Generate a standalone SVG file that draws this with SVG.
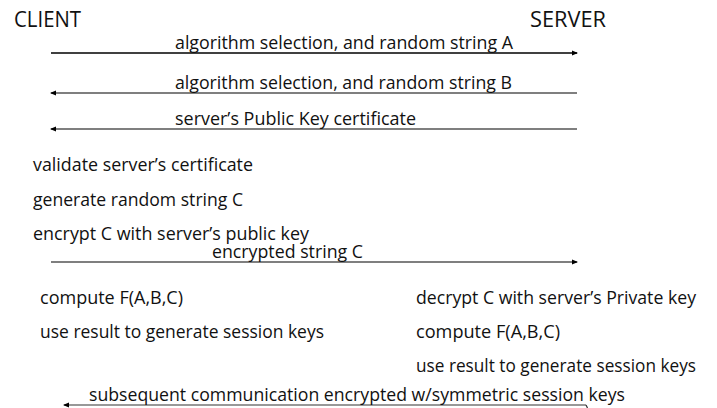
<svg xmlns="http://www.w3.org/2000/svg" width="717" height="408" viewBox="0 0 717 408">
  <style>
    text { font-family: "Open Sans", "Noto Sans", "Liberation Sans", sans-serif; fill: #111; }
    .hdr { font-size: 21px; }
    .lbl { font-size: 17.5px; }
    .msg { fill: none; stroke: #7f7f7f; stroke-width: 2; }
    .msg.dark { stroke: #000; stroke-width: 1.3; }
    .msg.thin { stroke: #333; stroke-width: 1.2; }
  </style>
  <defs>
    <marker id="head" viewBox="0 0 6 6" refX="5" refY="3" markerWidth="6" markerHeight="6" markerUnits="userSpaceOnUse" orient="auto">
      <path d="M0,0.6 L6,3 L0,5.4 Z" fill="#000"/>
    </marker>
  </defs>
  <rect width="717" height="408" fill="#fff"/>

  <!-- participants -->
  <g id="client">
    <text class="hdr" x="14" y="27" textLength="67" lengthAdjust="spacingAndGlyphs">CLIENT</text>
  </g>
  <g id="server">
    <text class="hdr" x="530" y="27" textLength="76" lengthAdjust="spacingAndGlyphs">SERVER</text>
  </g>

  <!-- message lines -->
  <g id="connectors">
    <line class="msg dark" x1="51" y1="53" x2="577" y2="53" marker-end="url(#head)"/>
    <line class="msg" x1="577" y1="93" x2="51" y2="93" marker-end="url(#head)"/>
    <line class="msg" x1="577" y1="129" x2="51" y2="129" marker-end="url(#head)"/>
    <line class="msg" x1="51" y1="262" x2="577" y2="262" marker-end="url(#head)"/>
    <line class="msg thin" x1="586" y1="405" x2="64" y2="405" marker-end="url(#head)"/>
    <path d="M586,405 l1.5,3" fill="none" stroke="#333" stroke-width="1.2"/>
  </g>

  <!-- message labels -->
  <g id="msg-a">
    <text class="lbl" x="175" y="49" textLength="338" lengthAdjust="spacingAndGlyphs">algorithm selection, and random string A</text>
  </g>
  <g id="msg-b">
    <text class="lbl" x="175" y="89" textLength="337" lengthAdjust="spacingAndGlyphs">algorithm selection, and random string B</text>
  </g>
  <g id="msg-cert">
    <text class="lbl" x="175" y="125" textLength="241" lengthAdjust="spacingAndGlyphs">server’s Public Key certificate</text>
  </g>
  <g id="msg-c">
    <text class="lbl" x="212" y="258" textLength="151" lengthAdjust="spacingAndGlyphs">encrypted string C</text>
  </g>
  <g id="msg-session">
    <text class="lbl" x="89" y="401" textLength="536" lengthAdjust="spacingAndGlyphs">subsequent communication encrypted w/symmetric session keys</text>
  </g>

  <!-- client steps -->
  <g id="client-steps">
    <text class="lbl" x="33" y="171" textLength="220" lengthAdjust="spacingAndGlyphs">validate server’s certificate</text>
    <text class="lbl" x="33" y="206" textLength="210" lengthAdjust="spacingAndGlyphs">generate random string C</text>
    <text class="lbl" x="33" y="240" textLength="276" lengthAdjust="spacingAndGlyphs">encrypt C with server’s public key</text>
    <text class="lbl" x="40" y="304" textLength="143" lengthAdjust="spacingAndGlyphs">compute F(A,B,C)</text>
    <text class="lbl" x="40" y="338" textLength="284" lengthAdjust="spacingAndGlyphs">use result to generate session keys</text>
  </g>

  <!-- server steps -->
  <g id="server-steps">
    <text class="lbl" x="416" y="304" textLength="280" lengthAdjust="spacingAndGlyphs">decrypt C with server’s Private key</text>
    <text class="lbl" x="416" y="338" textLength="144" lengthAdjust="spacingAndGlyphs">compute F(A,B,C)</text>
    <text class="lbl" x="416" y="372" textLength="280" lengthAdjust="spacingAndGlyphs">use result to generate session keys</text>
  </g>
</svg>
